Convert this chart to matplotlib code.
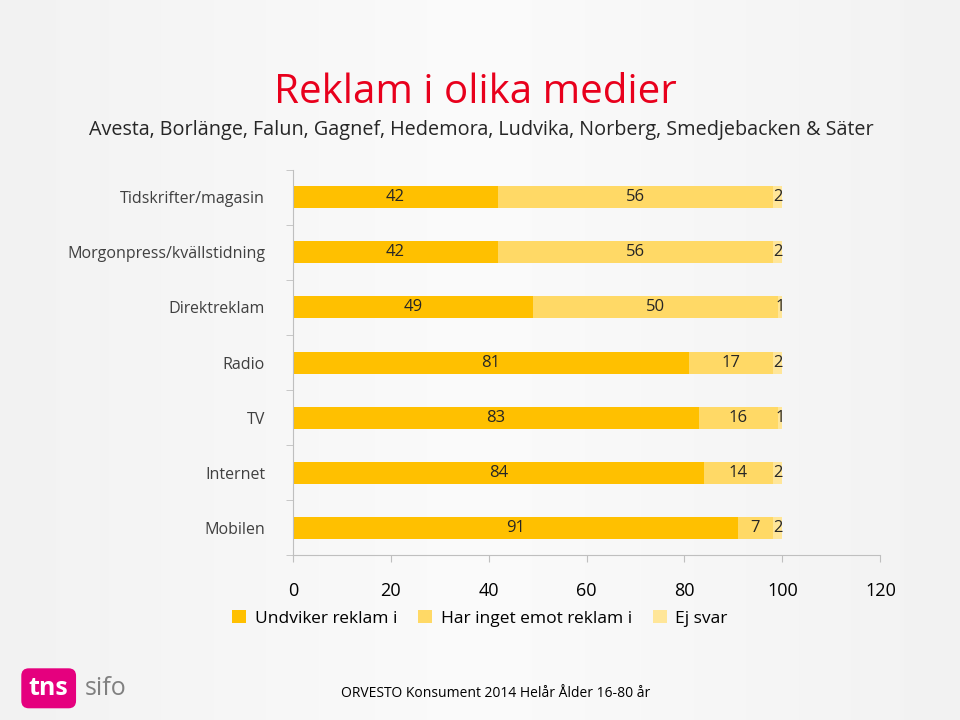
import matplotlib
matplotlib.use("Agg")
import matplotlib.pyplot as plt
import numpy as np

categories = ["Tidskrifter/magasin", "Morgonpress/kvällstidning", "Direktreklam", "Radio", "TV", "Internet", "Mobilen"]
undviker = [42, 42, 49, 81, 83, 84, 91]
har_inget = [56, 56, 50, 17, 16, 14, 7]
ej_svar = [2, 2, 1, 2, 1, 2, 2]
series_names = ["Undviker reklam i", "Har inget emot reklam i", "Ej svar"]
colors = ["#FFC000", "#FFD966", "#FFE699"]
xticks = [0, 20, 40, 60, 80, 100, 120]

plt.rcParams["font.family"] = "Open Sans"
fig = plt.figure(figsize=(9.6, 7.2), dpi=100)
bg = fig.add_axes([0, 0, 1, 1], zorder=-10)
grad = np.linspace(0, 1, 256).reshape(1, -1)
bg.imshow(grad, aspect="auto", cmap=matplotlib.colors.LinearSegmentedColormap.from_list("g", ["#F2F2F2", "#FBFBFB", "#F2F2F2"]), extent=[0, 1, 0, 1])
bg.axis("off")

ax = fig.add_axes([0.305, 0.229, 0.612, 0.535])
ax.patch.set_alpha(0)
y = np.arange(len(categories))
vals = [undviker, har_inget, ej_svar]
left = np.zeros(len(categories))
for v, c, n in zip(vals, colors, series_names):
    v = np.array(v, dtype=float)
    ax.barh(y, v, left=left, height=0.4, color=c, label=n)
    for yi, l, w in zip(y, left, v):
        ax.text(l + w / 2, yi, f"{int(w)}", ha="center", va="center", fontsize=12, color="#262626")
    left += v
ax.set_ylim(6.5, -0.5)
ax.set_xlim(0, 120)
ax.set_xticks(xticks)
ax.set_xticklabels([str(t) for t in xticks], fontsize=13)
ax.set_yticks(y)
ax.set_yticklabels(categories, fontsize=11.5, color="#404040")
ax.set_yticks(np.arange(-0.5, 7, 1), minor=True)
ax.tick_params(axis="y", which="major", length=0, pad=20)
ax.tick_params(axis="y", which="minor", length=5, color="#BFBFBF")
ax.tick_params(axis="x", length=5, color="#BFBFBF", pad=14)
for s in ["top", "right"]:
    ax.spines[s].set_visible(False)
for s in ["left", "bottom"]:
    ax.spines[s].set_color("#BFBFBF")

fig.legend(handles=ax.containers, labels=series_names, loc="center", bbox_to_anchor=(0.5, 0.141), ncol=3,
           frameon=False, fontsize=12.5, handlelength=0.8, handleheight=0.8, columnspacing=1.2, handletextpad=0.5)

fig.text(0.285, 0.857, "Reklam i olika medier", fontsize=29, color="#E8001C")
fig.text(0.093, 0.812, "Avesta, Borlänge, Falun, Gagnef, Hedemora, Ludvika, Norberg, Smedjebacken & Säter", fontsize=14.2, color="#262626")
fig.text(0.355, 0.032, "ORVESTO Konsument 2014 Helår Ålder 16-80 år", fontsize=10, color="#000000")
fig.text(0.03, 0.035, "tns", fontsize=18, color="white", fontweight="bold",
         bbox=dict(boxstyle="round,pad=0.3", fc="#E5007E", ec="none"))
fig.text(0.088, 0.035, "sifo", fontsize=18, color="#808080")
fig.savefig("out.png", dpi=100)
